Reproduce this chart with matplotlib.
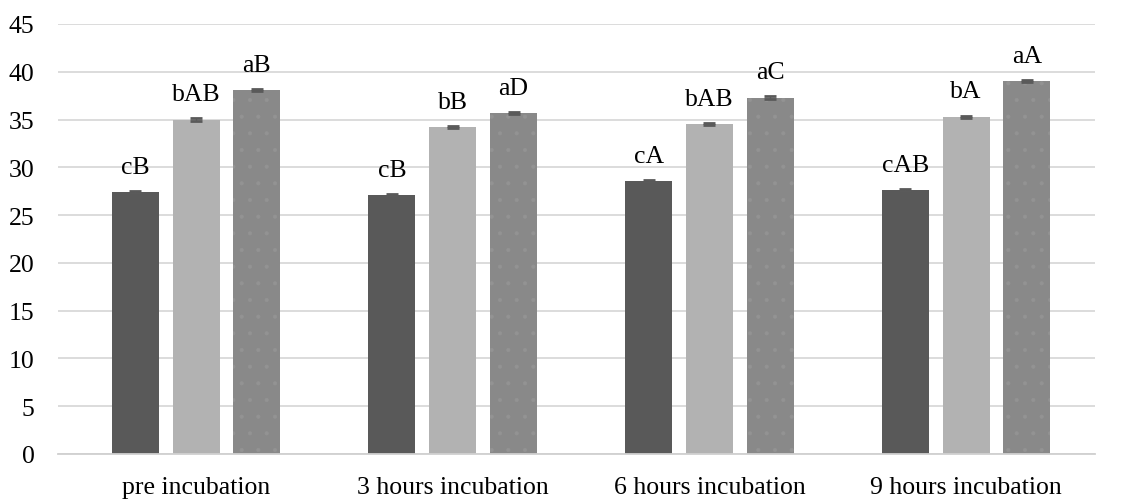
import matplotlib
matplotlib.use("Agg")
import matplotlib.pyplot as plt
import numpy as np

categories = ["pre incubation", "3 hours incubation", "6 hours incubation", "9 hours incubation"]
series_dark = [27.4, 27.1, 28.6, 27.6]
series_light = [35.0, 34.2, 34.5, 35.3]
series_mid = [38.1, 35.7, 37.3, 39.0]
errors_dark = [0.12, 0.12, 0.12, 0.12]
errors_light = [0.12, 0.12, 0.12, 0.12]
errors_mid = [0.12, 0.12, 0.12, 0.12]
labels_dark = ["cB", "cB", "cA", "cAB"]
labels_light = ["bAB", "bB", "bAB", "bA"]
labels_mid = ["aB", "aD", "aC", "aA"]
yticks = [0, 5, 10, 15, 20, 25, 30, 35, 40, 45]

plt.rcParams["font.family"] = ["Liberation Serif", "DejaVu Serif"]
plt.rcParams["hatch.linewidth"] = 0.5

fig = plt.figure(figsize=(11.43, 5.02), dpi=100)
ax = fig.add_axes([58 / 1143, 1 - 455 / 502, (1095 - 58) / 1143, (455 - 25) / 502])

x = np.arange(len(categories))
width = 0.183
step = 0.237
fs = 18.5

groups = [
    (series_dark, errors_dark, labels_dark, "#595959", None, None),
    (series_light, errors_light, labels_light, "#b2b2b2", None, None),
    (series_mid, errors_mid, labels_mid, "#898989", "#939393", "."),
]

for i, (vals, errs, labs, color, hcol, hatch) in enumerate(groups):
    pos = x + (i - 1) * step
    ax.bar(pos, vals, width, color=color, zorder=2, linewidth=0,
           hatch=hatch, edgecolor=hcol if hcol else color)
    ax.errorbar(pos, vals, yerr=errs, fmt="none", ecolor="#5a5a5a",
                elinewidth=1, capsize=4, capthick=2, zorder=3)
    for xp, v, e, lab in zip(pos, vals, errs, labs):
        ax.annotate(lab, (xp, v + e), xytext=(0, 13), textcoords="offset points",
                    ha="center", va="baseline", fontsize=fs)

ax.set_xlim(-0.538, 3.502)
ax.set_ylim(0, 45)
ax.set_yticks(yticks)
ax.set_xticks(x)
ax.set_xticklabels(categories, fontsize=fs)
ax.tick_params(axis="y", labelsize=fs, length=0, pad=17)
ax.tick_params(axis="x", length=0, pad=16)
ax.yaxis.grid(True, color="#d9d9d9", linewidth=1.3, zorder=0)
ax.set_axisbelow(True)
for side in ["top", "right", "left"]:
    ax.spines[side].set_visible(False)
ax.spines["bottom"].set_color("#d0d0d0")
ax.spines["bottom"].set_linewidth(1.3)

fig.savefig("out.png", dpi=100)
